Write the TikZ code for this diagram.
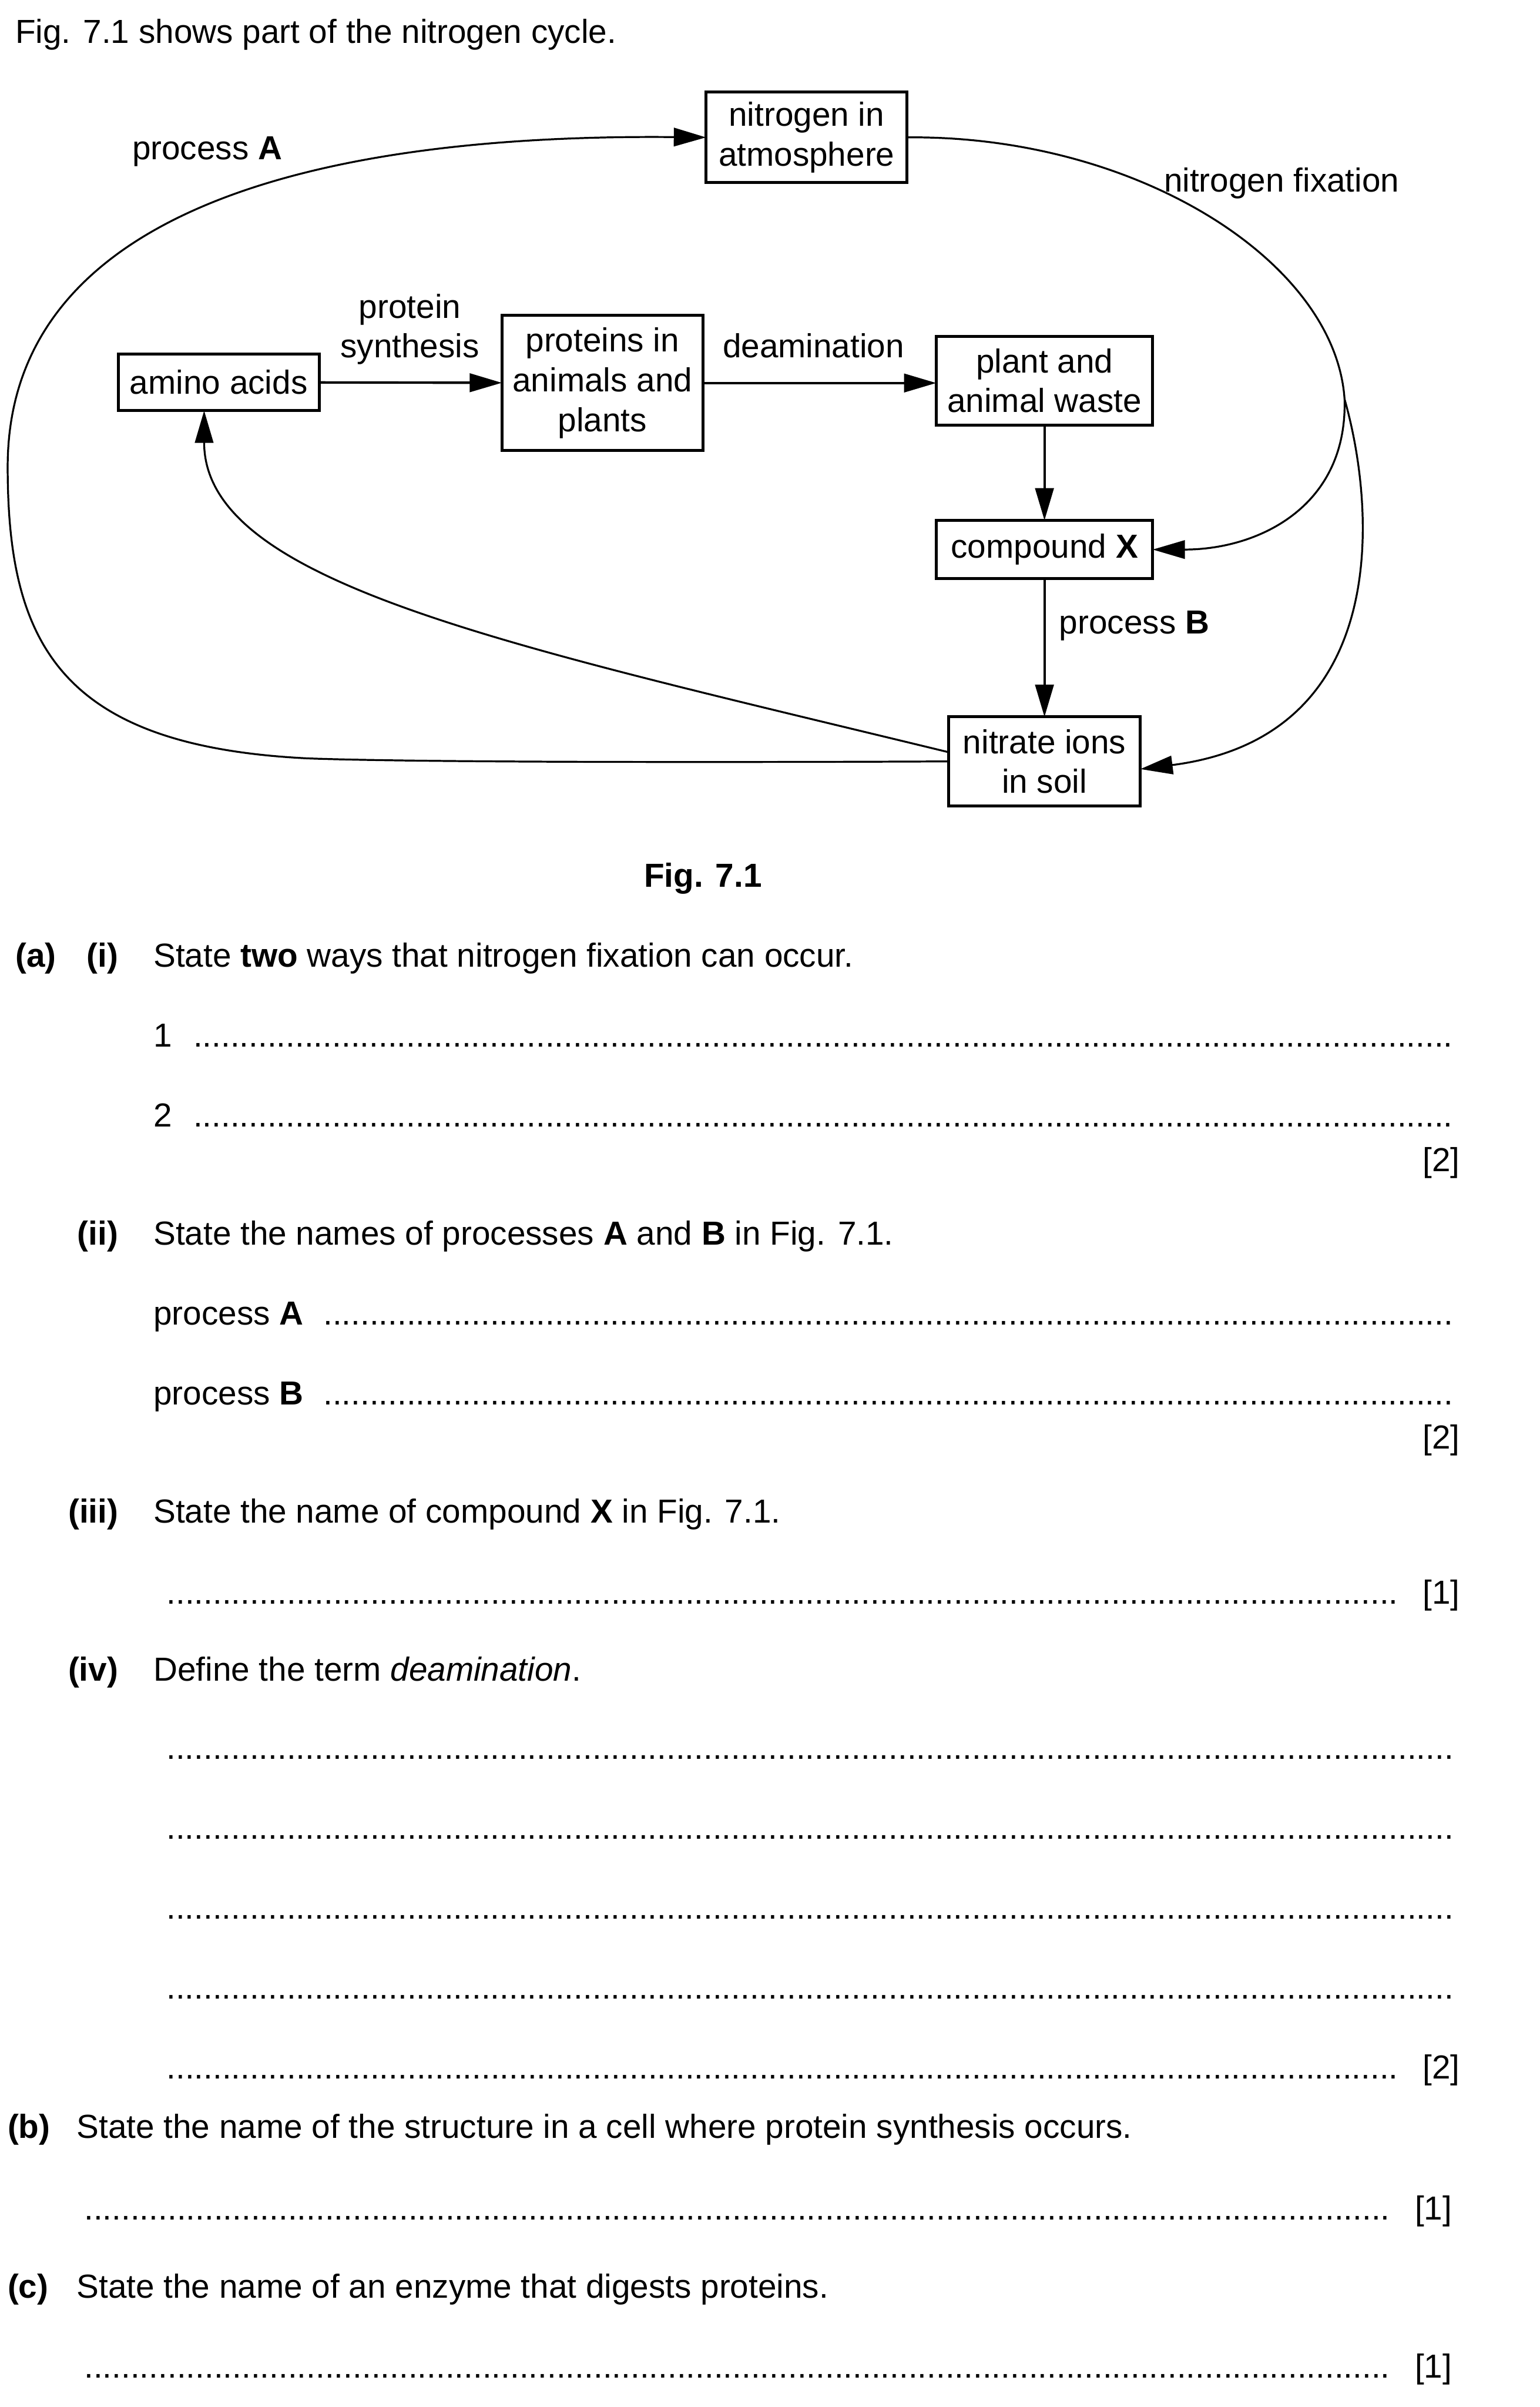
\documentclass[tikz,border=0pt]{standalone}
\usepackage{fontspec}
\setmainfont{Liberation Sans}
\usepackage{tikz}
\usetikzlibrary{arrows.meta,calc}
\newcommand\qsize{\fontsize{12.35pt}{14.75pt}\selectfont}
\newcommand\dotrule[1]{\hbox to #1{\cleaders\hbox{.}\hfill}}

\begin{document}
\begin{tikzpicture}[x=0.2mm, y=-0.2mm,
    every node/.style={font=\qsize, inner sep=0pt, outer sep=0pt},
    box/.style={draw, line width=1.1pt, align=center},
    lab/.style={anchor=base},
    txt/.style={anchor=base west},
    num/.style={anchor=base east, font=\qsize\bfseries},
    score/.style={anchor=base east},
    arr/.style={line width=0.9pt, -{Triangle[length=4.2mm, width=2.4mm]}},
    cyc/.style={line width=0.7pt, -{Triangle[length=4.2mm, width=2.4mm]}}]
  \useasboundingbox (0,0) rectangle (1003,1568);

  \node[txt] (intro) at (10,28) {Fig. 7.1 shows part of the nitrogen cycle.};

  % boxes of the cycle
  \node[box, minimum width=26.2mm, minimum height=11.8mm] (atmos) at (525.5,89.5) {nitrogen in\\atmosphere};
  \node[box, minimum width=26.2mm, minimum height=7.4mm] (amino) at (142.5,249) {amino acids};
  \node[box, minimum width=26.2mm, minimum height=17.6mm] (proteins) at (392.5,249.5) {proteins in\\animals and\\plants};
  \node[box, minimum width=28.2mm, minimum height=11.6mm] (waste) at (680.5,248) {plant and\\animal waste};
  \node[box, minimum width=28.2mm, minimum height=7.6mm] (compX) at (680.5,358) {compound \textbf{X}};
  \node[box, minimum width=25mm, minimum height=11.6mm] (nitrate) at (680.5,496) {nitrate ions\\in soil};

  % labels on the arrows
  \node[align=center] (synth) at (267,214.5) {protein\\synthesis};
  \node[lab] (deam) at (530,233) {deamination};
  \node[lab] (procA) at (135,104) {process \textbf{A}};
  \node[lab] (fixlab) at (835,125) {nitrogen fixation};
  \node[lab] (procB) at (739,413) {process \textbf{B}};

  % straight arrows
  \draw[arr] (amino) -- (proteins);
  \draw[arr] (proteins.east) -- (proteins.east -| waste.west);
  \draw[arr] (waste) -- (compX);
  \draw[arr] (compX) -- (nitrate);

  % process A: round the left side up to the atmosphere
  \draw[cyc] (nitrate.west) .. controls (400,497) and (250,496) .. (200,494)
    .. controls (40,486) and (5,420) .. (5,304)
    .. controls (5,140) and (200,87) .. (atmos.west);

  % nitrate ions back to amino acids
  \draw[cyc] ($(nitrate.west)+(0,-6)$) .. controls (330,420) and (133,380) .. ($(amino.south)+(-9.5,0)$);

  % nitrogen fixation, splitting in two
  \coordinate (fix) at (876,260);
  \draw[line width=0.7pt] (atmos.east) .. controls (740,88) and (870,170) .. (fix);
  \draw[cyc] (fix) .. controls (878,330) and (820,358) .. (compX.east);
  \draw[cyc] (fix) .. controls (896,330) and (908,480) .. ($(nitrate.east)+(0,5)$);

  \node[lab, font=\qsize\bfseries] (figcap) at (458,578) {Fig. 7.1};

  % (a)
  \node[txt, font=\qsize\bfseries] (qa) at (10,630) {(a)};
  \node[num] (qai) at (77,630) {(i)};
  \node[txt] (ti) at (100,630) {State \textbf{two} ways that nitrogen fixation can occur.};
  \node[txt] (one) at (100,682) {1};
  \node[txt] (dotsone) at (123,682) {\dotrule{165.2mm}};
  \node[txt] (two) at (100,734) {2};
  \node[txt] (dotstwo) at (123,734) {\dotrule{165.2mm}};
  \node[score] (mi) at (951,763) {[2]};

  \node[num] (qaii) at (77,811) {(ii)};
  \node[txt] (tii) at (100,811) {State the names of processes \textbf{A} and \textbf{B} in Fig. 7.1.};
  \node[txt] (ansA) at (100,863) {process \textbf{A}};
  \node[txt] (dotsA) at (208,863) {\dotrule{148.2mm}};
  \node[txt] (ansB) at (100,915) {process \textbf{B}};
  \node[txt] (dotsB) at (208,915) {\dotrule{148.2mm}};
  \node[score] (mii) at (951,944) {[2]};

  \node[num] (qaiii) at (77,992) {(iii)};
  \node[txt] (tiii) at (100,992) {State the name of compound \textbf{X} in Fig. 7.1.};
  \node[txt] (dotsX) at (106,1045) {\dotrule{161.4mm}};
  \node[score] (miii) at (951,1045) {[1]};

  \node[num] (qaiv) at (77,1095) {(iv)};
  \node[txt] (tiv) at (100,1095) {Define the term \textit{deamination}.};
  \foreach \yy [count=\k] in {1146,1198,1250,1302}
    \node[txt] (dotsiv\k) at (106,\yy) {\dotrule{168.6mm}};
  \node[txt] (dotsiv5) at (106,1354) {\dotrule{161.4mm}};
  \node[score] (miv) at (951,1354) {[2]};

  % (b) and (c)
  \node[txt, font=\qsize\bfseries] (qb) at (5,1393) {(b)};
  \node[txt] (tb) at (50,1393) {State the name of the structure in a cell where protein synthesis occurs.};
  \node[txt] (dotsb) at (52,1446) {\dotrule{171.2mm}};
  \node[score] (mb) at (946,1446) {[1]};

  \node[txt, font=\qsize\bfseries] (qc) at (5,1497) {(c)};
  \node[txt] (tc) at (50,1497) {State the name of an enzyme that digests proteins.};
  \node[txt] (dotsc) at (52,1549) {\dotrule{171.2mm}};
  \node[score] (mc) at (946,1549) {[1]};
\end{tikzpicture}
\end{document}
